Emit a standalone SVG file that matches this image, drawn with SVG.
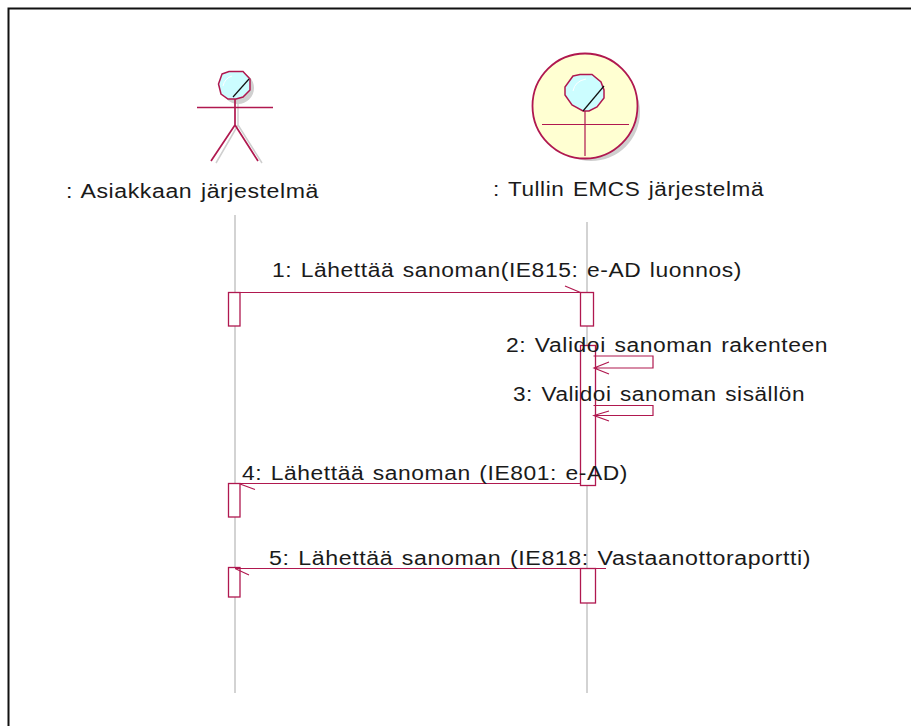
<svg xmlns="http://www.w3.org/2000/svg" width="911" height="726" viewBox="0 0 911 726">
<defs><style>
.t{font-family:"Liberation Sans",Arial,sans-serif;font-size:20px;fill:#1a1a1a;letter-spacing:.5px;word-spacing:1.5px}
.l{stroke:#c4c4c4;stroke-width:1.5;fill:none}
.m{stroke:#b0184f;stroke-width:1.2;fill:none}
.a{stroke:#b0184f;stroke-width:1.3;fill:#fff}
.s{stroke:#cfcfcf;fill:none;stroke-width:1.5}
</style></defs>
<rect width="911" height="726" fill="#fff"/>
<path d="M8.500 726V8.500H911" fill="none" stroke="#111" stroke-width="2"/>
<g id="lifelines"><path class="l" d="M235 215V693"/><path class="l" d="M587 222V693"/></g>
<g id="actor-asiakas">
<circle cx="238" cy="88" r="16" fill="#d0d0d0"/>
<path class="s" d="M238 100V125M238 125L216 163M238 125L262 163"/>
<path d="M222 74L229 71.500H243L250 79V90L243 97L236 99H228L221 94L218.500 84Z" fill="#ccfdff" stroke="#b0184f" stroke-width="1.500"/>
<path d="M233 97L249 79" stroke="#111" stroke-width="1.200"/>
<path d="M223 86Q225 78 232 76" stroke="#fff" fill="none" stroke-width="1"/>
<path d="M235 99V125M197 107.500H273M235 125L211 161M235 125L258 161" stroke="#b0184f" stroke-width="1.700" fill="none"/>
<text class="t" x="66" y="198" textLength="253" lengthAdjust="spacingAndGlyphs">: Asiakkaan järjestelmä</text>
</g>
<g id="system-tulli">
<circle cx="591" cy="112" r="49" fill="#cfcfcf"/>
<circle cx="585" cy="106" r="52.500" fill="#ffffd2" stroke="#b0184f" stroke-width="1.800"/>
<path d="M573 76L580 74.500H592L601 82L604 90V98L597 107L589 111H583L572 105L565 95V87Z" fill="#ccfdff" stroke="#b0184f" stroke-width="1.500"/>
<path d="M583 111L604 86" stroke="#111" stroke-width="1.200"/>
<path d="M573 91Q575 81 586 79" stroke="#fff" fill="none" stroke-width="1"/>
<path d="M585 111V156M542 124.500H629" stroke="#b0184f" stroke-width="1.200" fill="none"/>
<text class="t" x="493" y="196" textLength="271" lengthAdjust="spacingAndGlyphs">: Tullin EMCS järjestelmä</text>
</g>
<g id="activations">
<rect class="a" x="228.500" y="292.500" width="11.500" height="33.500"/>
<rect class="a" x="580.500" y="292.500" width="13" height="33.500"/>
<rect class="a" x="580.500" y="345.500" width="15" height="140"/>
<rect class="a" x="228.500" y="483.500" width="11.500" height="33.500"/>
<rect class="a" x="228.500" y="567.500" width="11.500" height="29.500"/>
<rect class="a" x="580.500" y="568.500" width="15" height="34.500"/>
</g>
<g id="connectors">
<path class="m" d="M240 292.500H580.500M565 286L580.500 292.500"/>
<path class="m" d="M593.500 356H653V368H594M609 362L594 368L609 374"/>
<path class="m" d="M593.500 405.500H653V415.500H594M609 411L594 415.500L609 421"/>
<path class="m" d="M580.500 483.500H240M240 484L255 489.500"/>
<path class="m" d="M606 568.500H235M235 568.500L249 575"/>
</g>
<g id="labels">
<text class="t" x="272" y="277" textLength="470" lengthAdjust="spacingAndGlyphs">1: Lähettää sanoman(IE815: e-AD luonnos)</text>
<text class="t" x="506" y="352" textLength="322" lengthAdjust="spacingAndGlyphs">2: Validoi sanoman rakenteen</text>
<text class="t" x="513" y="401" textLength="292" lengthAdjust="spacingAndGlyphs">3: Validoi sanoman sisällön</text>
<text class="t" x="242" y="480" textLength="386" lengthAdjust="spacingAndGlyphs">4: Lähettää sanoman (IE801: e-AD)</text>
<text class="t" x="269" y="565" textLength="542" lengthAdjust="spacingAndGlyphs">5: Lähettää sanoman (IE818: Vastaanottoraportti)</text>
</g>
</svg>
